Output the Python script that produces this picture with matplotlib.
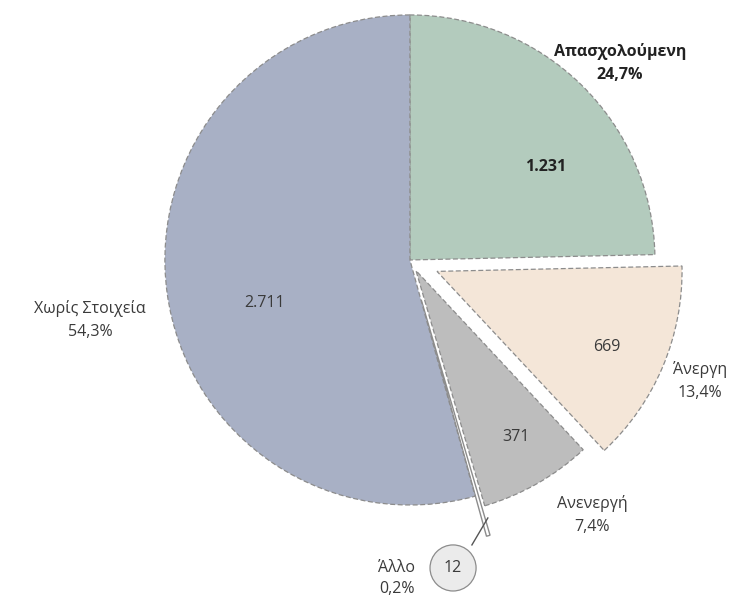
import matplotlib
matplotlib.use("Agg")
import matplotlib.pyplot as plt
from matplotlib.patches import Circle

plt.rcParams['font.family'] = ['Open Sans', 'DejaVu Sans']

# Employment status breakdown
categories = ["Απασχολούμενη", "Άνεργη", "Ανενεργή", "Άλλο", "Χωρίς Στοιχεία"]
counts = [1231, 669, 371, 12, 2711]
count_labels = ["1.231", "669", "371", "12", "2.711"]
pct_labels = ["24,7%", "13,4%", "7,4%", "0,2%", "54,3%"]

colors = ["#b3cbbd", "#f4e6d8", "#bdbdbd", "#ffffff", "#a8b0c5"]
explode = [0.0, 0.12, 0.05, 0.17, 0.0]

fig = plt.figure(figsize=(7.51, 6.03), dpi=100)
ax = fig.add_axes([0, 0, 1, 1])

wedges, _ = ax.pie(counts, colors=colors, explode=explode, startangle=90,
                   counterclock=False, radius=1.0,
                   wedgeprops=dict(edgecolor="#8c8c8c", linewidth=0.9))
for w in wedges:
    w.set_linestyle((0, (4, 2)))
wedges[3].set_linestyle('-')
wedges[3].set_linewidth(1.0)

ax.set_xlim(-1.673, 1.392)
ax.set_ylim(-1.400, 1.061)
ax.set_aspect('equal')
ax.axis('off')

txt = dict(ha='center', va='center', color='#3a3a3a', fontsize=11.5)

# Values inside the slices
inner_pos = {0: (0.555, 0.380), 1: (0.804, -0.355), 2: (0.433, -0.722), 4: (-0.592, -0.176)}
for i, (x, y) in inner_pos.items():
    kw = dict(txt)
    if i == 0:
        kw.update(fontweight='bold', color='#222222')
    ax.text(x, y, count_labels[i], **kw)

# Category names with shares outside the pie
outer_pos = {0: (0.857, 0.804), 1: (1.184, -0.494), 2: (0.743, -1.041),
             3: (-0.053, -1.300), 4: (-1.306, -0.245)}
for i, (x, y) in outer_pos.items():
    kw = dict(txt)
    if i == 0:
        kw.update(fontweight='bold', color='#222222')
    ls = 1.4 if i == 3 else 1.55
    ax.text(x, y, categories[i] + "\n" + pct_labels[i], linespacing=ls, **kw)

# Callout bubble for the tiny slice
bx, by, br = 0.176, -1.257, 0.094
ax.add_patch(Circle((bx, by), br, facecolor='#ebebeb', edgecolor='#8c8c8c',
                    linewidth=0.9, zorder=5))
ax.text(bx, by, count_labels[3], zorder=6, **txt)
ax.plot([0.253, 0.318], [-1.163, -1.053], color='#555555', linewidth=1.0, zorder=4)

fig.savefig("out.png", dpi=100)
